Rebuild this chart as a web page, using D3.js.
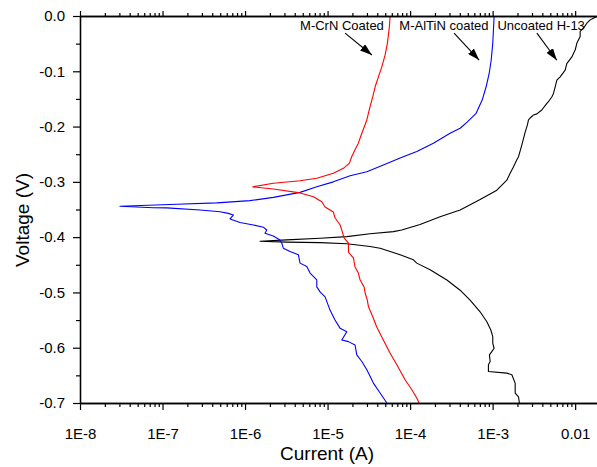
<!DOCTYPE html>
<html>
<head>
<meta charset="utf-8">
<script src="https://cdn.jsdelivr.net/npm/d3@7"></script>
<style>
  html, body { margin: 0; padding: 0; background: #fff; }
  svg { display: block; font-family: "Liberation Sans", Arial, sans-serif; }
</style>
</head>
<body>
<svg id="chart" width="597" height="467"></svg>
<script>
// Tafel polarisation curves: [current (A), voltage (V)], cathodic end -> Ecorr -> anodic end
const uncoatedH13 = [
  [2.11e-3,-0.700],[2.06e-3,-0.689],[1.876e-3,-0.682],[1.876e-3,-0.664],[1.71e-3,-0.649],
  [1.486e-3,-0.646],[8.89e-4,-0.643],[8.89e-4,-0.631],[9.33e-4,-0.625],[9.14e-4,-0.613],
  [9.77e-4,-0.607],[1.042e-3,-0.601],[1.004e-3,-0.592],[1.004e-3,-0.580],[9.51e-4,-0.568],
  [8.51e-4,-0.553],[7.05e-4,-0.535],[5.33e-4,-0.514],[4.04e-4,-0.496],[2.79e-4,-0.4775],
  [1.746e-4,-0.459],[1.205e-4,-0.447],[1.096e-4,-0.441],[7.57e-5,-0.432],[4.33e-5,-0.420],
  [3.27e-5,-0.417],[1.71e-5,-0.412],[8.11e-6,-0.410],[3.20e-6,-0.409],[1.52e-6,-0.4075],
  [3.20e-6,-0.405],[8.11e-6,-0.402],[1.71e-5,-0.399],[3.27e-5,-0.394],[6.28e-5,-0.390],
  [7.92e-5,-0.387],[1.32e-4,-0.377],[2.31e-4,-0.363],[4.04e-4,-0.351],[7.05e-4,-0.332],
  [1.125e-3,-0.315],[1.486e-3,-0.297],[1.63e-3,-0.2845],[1.786e-3,-0.273],[1.963e-3,-0.260],
  [2.06e-3,-0.2545],[2.26e-3,-0.233],[2.48e-3,-0.210],[2.64e-3,-0.197],[2.72e-3,-0.188],
  [2.85e-3,-0.1845],[3.13e-3,-0.179],[3.44e-3,-0.177],[3.94e-3,-0.170],[4.54e-3,-0.158],
  [4.74e-3,-0.155],[5.23e-3,-0.146],[5.46e-3,-0.140],[5.73e-3,-0.128],[6.00e-3,-0.116],
  [6.58e-3,-0.110],[7.57e-3,-0.098],[7.92e-3,-0.086],[9.12e-3,-0.074],[1.0e-2,-0.0615],
  [1.05e-2,-0.049],[1.15e-2,-0.037],[1.15e-2,-0.028],[1.262e-2,-0.022],[1.387e-2,-0.013],
  [1.52e-2,-0.007],[1.667e-2,-0.004],[1.83e-2,-0.001]
];

const mAlTiNCoated = [
  [5.23e-5,-0.700],[4.33e-5,-0.682],[3.59e-5,-0.664],[2.99e-5,-0.640],[2.60e-5,-0.625],
  [2.26e-5,-0.613],[2.15e-5,-0.595],[1.79e-5,-0.589],[1.486e-5,-0.586],[1.71e-5,-0.571],
  [1.42e-5,-0.565],[1.23e-5,-0.550],[1.07e-5,-0.532],[9.33e-6,-0.508],[8.11e-6,-0.499],
  [7.40e-6,-0.490],[7.40e-6,-0.4775],[6.14e-6,-0.465],[5.60e-6,-0.453],[4.64e-6,-0.447],
  [4.43e-6,-0.432],[3.51e-6,-0.426],[2.91e-6,-0.420],[2.79e-6,-0.411],[2.65e-6,-0.405],
  [2.20e-6,-0.398],[1.745e-6,-0.393],[1.83e-6,-0.387],[1.67e-6,-0.382],[1.26e-6,-0.378],
  [8.69e-7,-0.3735],[6.58e-7,-0.367],[7.21e-7,-0.360],[6.28e-7,-0.357],[4.98e-7,-0.354],
  [2.85e-7,-0.351],[1.125e-7,-0.347],[7.72e-8,-0.3467],[3.05e-8,-0.344],
  [1.485e-7,-0.3406],[4.54e-7,-0.338],[1.15e-6,-0.334],[2.20e-6,-0.328],[4.64e-6,-0.319],
  [7.40e-6,-0.309],[1.175e-5,-0.300],[1.875e-5,-0.289],[2.99e-5,-0.2816],[4.74e-5,-0.2695],
  [7.57e-5,-0.257],[1.205e-4,-0.245],[1.914e-4,-0.230],[3.05e-4,-0.212],[4.04e-4,-0.203],
  [4.91e-4,-0.192],[6.31e-4,-0.176],[7.47e-4,-0.152],[8.34e-4,-0.128],[9.08e-4,-0.104],
  [9.60e-4,-0.080],[1.004e-3,-0.049],[1.028e-3,-0.019],[1.042e-3,0]
];

const mCrNCoated = [
  [1.285e-4,-0.700],[1.205e-4,-0.691],[1.05e-4,-0.676],[8.69e-5,-0.658],[6.90e-5,-0.631],
  [5.73e-5,-0.610],[4.74e-5,-0.586],[3.94e-5,-0.5625],[3.53e-5,-0.544],[3.13e-5,-0.526],
  [3.03e-5,-0.514],[2.85e-5,-0.501],[2.77e-5,-0.490],[2.48e-5,-0.4775],[2.36e-5,-0.465],
  [2.15e-5,-0.454],[2.06e-5,-0.438],[1.79e-5,-0.427],[1.79e-5,-0.411],[1.585e-5,-0.4015],
  [1.50e-5,-0.389],[1.42e-5,-0.378],[1.23e-5,-0.365],[1.175e-5,-0.3545],[9.33e-6,-0.3455],
  [8.51e-6,-0.336],[6.73e-6,-0.327],[4.64e-6,-0.320],[2.20e-6,-0.313],[1.24e-6,-0.309],
  [2.20e-6,-0.3026],[4.64e-6,-0.298],[7.40e-6,-0.2936],[1.175e-5,-0.2845],[1.556e-5,-0.2755],
  [1.84e-5,-0.266],[1.96e-5,-0.2545],[2.15e-5,-0.242],[2.36e-5,-0.230],[2.60e-5,-0.212],
  [2.99e-5,-0.188],[3.27e-5,-0.164],[3.53e-5,-0.146],[3.77e-5,-0.128],[4.13e-5,-0.110],
  [4.54e-5,-0.092],[4.98e-5,-0.0705],[5.31e-5,-0.049],[5.61e-5,-0.019],[5.73e-5,0]
];

const currentTicks = [1e-8, 1e-7, 1e-6, 1e-5, 1e-4, 1e-3, 1e-2];
const currentTickLabels = ["1E-8", "1E-7", "1E-6", "1E-5", "1E-4", "1E-3", "0.01"];
const voltageTicks = [0, -0.1, -0.2, -0.3, -0.4, -0.5, -0.6, -0.7];
const voltageTickLabels = ["0.0", "-0.1", "-0.2", "-0.3", "-0.4", "-0.5", "-0.6", "-0.7"];
const voltageMinorTicks = [-0.05, -0.15, -0.25, -0.35, -0.45, -0.55, -0.65];

// label text, label anchor [I, V], arrow tail [I, V], arrow tip [I, V]
const seriesNames = ["M-CrN Coated", "M-AlTiN coated", "Uncoated H-13"];
const nameAnchors = [[4.64e-6, -0.026], [7.41e-5, -0.026], [1.143e-3, -0.026]];
const arrowTails = [[1.63e-5, -0.031], [3.41e-4, -0.031], [3.44e-3, -0.031]];
const arrowTips = [[3.44e-5, -0.0705], [6.86e-4, -0.0796], [6.0e-3, -0.080]];

(function drawChart() {
  const svg = d3.select("#chart");
  const plotLeft = 80, plotRight = 600, plotTop = 16, plotBottom = 403;

  const x = d3.scaleLog().domain([1e-8, 0.02]).range([plotLeft, plotRight]);
  const y = d3.scaleLinear().domain([-0.7, 0]).range([plotBottom, plotTop]);

  // minor log ticks 2..9 within each decade
  const currentMinorTicks = [];
  for (let e = -8; e <= -2; e++) {
    for (let m = 2; m <= 9; m++) {
      const v = m * Math.pow(10, e);
      if (v <= 0.02) currentMinorTicks.push(v);
    }
  }

  const defs = svg.append("defs");
  defs.append("clipPath").attr("id", "plot-clip")
    .append("rect").attr("x", plotLeft).attr("y", plotTop - 1)
    .attr("width", plotRight - plotLeft).attr("height", plotBottom - plotTop + 2);

  defs.append("marker")
    .attr("id", "arrowhead")
    .attr("markerUnits", "userSpaceOnUse")
    .attr("markerWidth", 12).attr("markerHeight", 8)
    .attr("refX", 12).attr("refY", 4)
    .attr("orient", "auto")
    .append("path").attr("d", "M0,0 L12,4 L0,8 Z").attr("fill", "#000");

  // curves
  const line = d3.line().x(d => x(d[0])).y(d => y(d[1]));
  const curves = svg.append("g").attr("clip-path", "url(#plot-clip)");
  [[uncoatedH13, "#000000"], [mAlTiNCoated, "#0000ff"], [mCrNCoated, "#ff0000"]].forEach(([data, color]) => {
    curves.append("path").datum(data)
      .attr("d", line)
      .attr("fill", "none")
      .attr("stroke", color)
      .attr("stroke-width", 1.1)
      .attr("stroke-linejoin", "round");
  });

  // axes
  function styleAxis(g) {
    g.selectAll("path.domain").attr("stroke", "#000").attr("stroke-width", 1.3);
    g.selectAll(".tick line").attr("stroke", "#000").attr("stroke-width", 1.2);
    g.selectAll(".tick text").attr("fill", "#000").attr("font-size", 15)
      .attr("font-family", "'Liberation Sans', Arial, sans-serif");
  }

  svg.append("g").attr("transform", `translate(0,${plotBottom})`)
    .call(d3.axisBottom(x).tickValues(currentMinorTicks).tickSize(4).tickFormat("").tickSizeOuter(0))
    .call(styleAxis);
  svg.append("g").attr("transform", `translate(0,${plotBottom})`)
    .call(d3.axisBottom(x).tickValues(currentTicks).tickSize(7).tickPadding(18)
      .tickFormat((d, i) => currentTickLabels[i]).tickSizeOuter(0))
    .call(styleAxis);

  svg.append("g").attr("transform", `translate(0,${plotTop})`)
    .call(d3.axisTop(x).tickValues(currentMinorTicks).tickSize(3).tickFormat("").tickSizeOuter(0))
    .call(styleAxis);
  svg.append("g").attr("transform", `translate(0,${plotTop})`)
    .call(d3.axisTop(x).tickValues(currentTicks).tickSize(5).tickFormat("").tickSizeOuter(0))
    .call(styleAxis);

  svg.append("g").attr("transform", `translate(${plotLeft},0)`)
    .call(d3.axisLeft(y).tickValues(voltageMinorTicks).tickSize(4).tickFormat("").tickSizeOuter(0))
    .call(styleAxis);
  svg.append("g").attr("transform", `translate(${plotLeft},0)`)
    .call(d3.axisLeft(y).tickValues(voltageTicks).tickSize(7).tickPadding(8)
      .tickFormat((d, i) => voltageTickLabels[i]).tickSizeOuter(0))
    .call(styleAxis);

  // axis titles
  svg.append("text")
    .attr("x", 327).attr("y", 460)
    .attr("text-anchor", "middle")
    .attr("font-size", 19)
    .text("Current (A)");

  svg.append("text")
    .attr("transform", "translate(29,220) rotate(-90)")
    .attr("text-anchor", "middle")
    .attr("font-size", 19)
    .text("Voltage (V)");

  // series annotations with arrows
  seriesNames.forEach((name, i) => {
    svg.append("text")
      .attr("x", x(nameAnchors[i][0])).attr("y", y(nameAnchors[i][1]))
      .attr("font-size", 13)
      .text(name);
    svg.append("line")
      .attr("x1", x(arrowTails[i][0])).attr("y1", y(arrowTails[i][1]))
      .attr("x2", x(arrowTips[i][0])).attr("y2", y(arrowTips[i][1]))
      .attr("stroke", "#000").attr("stroke-width", 1.1)
      .attr("marker-end", "url(#arrowhead)");
  });
})();
</script>
</body>
</html>
